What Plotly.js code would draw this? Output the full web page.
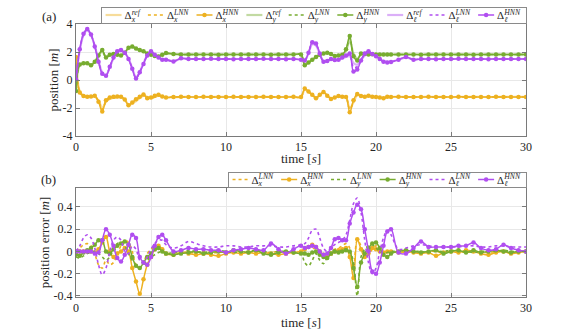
<!DOCTYPE html>
<html>
<head>
<meta charset="utf-8">
<script src="https://cdn.plot.ly/plotly-3.0.1.min.js"></script>
<style>
  html, body { margin: 0; padding: 0; background: #fff; }
  .fig { width: 581px; height: 166px; }
</style>
</head>
<body>
<div id="figA" class="fig"></div>
<div id="figB" class="fig"></div>
<script>
// time samples [s]: fine steps in the two transients, 0.5 s elsewhere
var time = [
  0,0.25,0.5,0.75,1,1.25,1.5,1.75,2,2.25,2.5,2.75,3,3.25,3.5,3.75,4,4.25,4.5,4.75,5,5.25,5.5,5.75,6,
  6.5,7,7.5,8,8.5,9,9.5,10,10.5,11,11.5,12,12.5,13,13.5,14,14.5,
  15,15.25,15.5,15.75,16,16.25,16.5,16.75,17,17.25,17.5,17.75,18,18.25,18.5,18.75,19,19.25,19.5,19.75,20,20.25,20.5,20.75,21,
  21.5,22,22.5,23,23.5,24,24.5,25,25.5,26,26.5,27,27.5,28,28.5,29,29.5,30
];

// (a) positions [m]
var xRef = [
  1.65,-0.8,-1.1,-1.18,-1.18,-1.2,-1.45,-2.0,-1.55,-1.35,-1.28,-1.25,-1.22,-1.4,-1.75,-1.7,-1.5,-1.3,-1.12,-1.2,-1.3,-1.22,-1.12,-1.18,-1.23,
  -1.23,-1.21,-1.21,-1.22,-1.21,-1.21,-1.21,-1.21,-1.22,-1.21,-1.21,-1.21,-1.21,-1.21,-1.22,-1.21,-1.21,
  -1.21,-0.7,-0.85,-1.05,-1.25,-1.1,-0.9,-1.1,-1.3,-1.25,-1.17,-1.2,-1.22,-2.0,-1.6,-1.1,-1.12,-1.2,-1.15,-1.2,-1.23,-1.25,-1.27,-1.22,-1.21,
  -1.21,-1.21,-1.22,-1.21,-1.21,-1.21,-1.21,-1.22,-1.21,-1.21,-1.21,-1.21,-1.22,-1.21,-1.21,-1.21,-1.21,-1.21
];
var xLNN = [
  1.65,-0.85,-1.12,-1.2,-1.19,-1.18,-1.5,-2.1,-1.55,-1.3,-1.27,-1.24,-1.2,-1.38,-1.78,-1.62,-1.42,-1.22,-1.08,-1.22,-1.32,-1.21,-1.1,-1.19,-1.24,
  -1.22,-1.21,-1.21,-1.22,-1.21,-1.21,-1.22,-1.21,-1.21,-1.21,-1.22,-1.21,-1.21,-1.21,-1.22,-1.21,-1.21,
  -1.21,-0.65,-0.85,-1.05,-1.28,-1.08,-0.88,-1.1,-1.32,-1.25,-1.16,-1.2,-1.22,-2.1,-1.55,-1.05,-1.13,-1.2,-1.14,-1.2,-1.23,-1.25,-1.28,-1.21,-1.21,
  -1.21,-1.21,-1.21,-1.22,-1.21,-1.21,-1.22,-1.21,-1.21,-1.21,-1.21,-1.22,-1.21,-1.21,-1.21,-1.22,-1.21,-1.21
];
var xHNN = [
  1.65,-0.9,-1.15,-1.2,-1.18,-1.12,-1.55,-2.25,-1.45,-1.25,-1.2,-1.18,-1.2,-1.4,-1.8,-1.6,-1.38,-1.2,-1.03,-1.3,-1.25,-1.12,-1.05,-1.18,-1.25,
  -1.22,-1.2,-1.21,-1.22,-1.2,-1.21,-1.22,-1.21,-1.2,-1.21,-1.22,-1.21,-1.2,-1.21,-1.22,-1.21,-1.2,
  -1.21,-0.6,-0.82,-1.05,-1.3,-1.05,-0.85,-1.12,-1.35,-1.25,-1.15,-1.2,-1.22,-2.3,-1.45,-1.0,-1.15,-1.2,-1.12,-1.2,-1.22,-1.25,-1.3,-1.2,-1.21,
  -1.2,-1.21,-1.22,-1.21,-1.2,-1.21,-1.22,-1.21,-1.2,-1.21,-1.21,-1.22,-1.21,-1.2,-1.21,-1.22,-1.21,-1.21
];
var yRef = [
  -0.78,1.05,1.18,1.2,1.08,1.3,1.75,2.0,1.65,1.78,1.85,1.8,1.78,1.95,2.25,2.35,2.22,2.12,2.02,1.9,1.82,1.75,1.72,1.8,1.88,
  1.84,1.82,1.82,1.82,1.82,1.82,1.82,1.82,1.82,1.82,1.82,1.82,1.82,1.82,1.82,1.82,1.82,
  1.82,1.15,1.25,1.45,1.62,1.78,1.88,1.92,1.85,1.74,1.76,1.8,2.1,2.8,1.9,1.55,1.8,1.85,1.83,1.82,1.82,1.82,1.82,1.82,1.82,
  1.82,1.82,1.82,1.82,1.82,1.82,1.82,1.82,1.82,1.82,1.82,1.82,1.82,1.82,1.82,1.82,1.82,1.82
];
var yLNN = [
  -0.78,1.08,1.19,1.2,1.06,1.3,1.75,2.1,1.62,1.8,1.85,1.8,1.76,1.95,2.28,2.38,2.24,2.14,2.04,1.9,1.81,1.73,1.7,1.8,1.9,
  1.85,1.82,1.82,1.82,1.82,1.82,1.82,1.82,1.82,1.82,1.82,1.82,1.82,1.82,1.82,1.82,1.82,
  1.82,1.1,1.25,1.45,1.64,1.8,1.89,1.94,1.85,1.73,1.75,1.8,2.15,3.0,1.8,1.45,1.85,1.85,1.82,1.83,1.82,1.82,1.82,1.82,1.82,
  1.82,1.82,1.82,1.82,1.82,1.82,1.82,1.82,1.82,1.82,1.82,1.82,1.82,1.82,1.82,1.82,1.82,1.82
];
var yHNN = [
  -0.78,1.1,1.2,1.2,1.05,1.3,1.75,2.15,1.6,1.8,1.85,1.8,1.75,1.95,2.3,2.4,2.25,2.15,2.05,1.9,1.8,1.72,1.68,1.8,1.92,
  1.85,1.82,1.82,1.83,1.82,1.82,1.81,1.82,1.82,1.83,1.82,1.82,1.82,1.81,1.82,1.82,1.82,
  1.82,1.05,1.25,1.45,1.65,1.8,1.9,1.95,1.85,1.72,1.75,1.8,2.2,3.15,1.7,1.4,1.9,1.85,1.82,1.84,1.82,1.83,1.82,1.82,1.82,
  1.83,1.82,1.82,1.81,1.82,1.82,1.83,1.82,1.82,1.82,1.81,1.82,1.82,1.83,1.82,1.82,1.82,1.82
];
var lRef = [
  0.05,2.1,3.2,3.55,3.2,2.45,1.4,0.55,0.35,0.9,1.55,2.0,2.1,1.95,1.55,0.85,0.2,0.6,1.2,1.75,2.0,1.8,1.6,1.48,1.45,
  1.35,1.52,1.5,1.5,1.5,1.5,1.5,1.5,1.5,1.5,1.5,1.5,1.5,1.5,1.5,1.5,1.5,
  1.45,1.4,1.9,2.55,2.45,1.85,1.35,1.35,1.47,1.4,1.43,1.55,1.65,1.7,1.2,1.1,1.4,1.75,1.95,1.85,1.72,1.52,1.35,1.3,1.3,
  1.45,1.6,1.47,1.5,1.5,1.5,1.5,1.5,1.5,1.5,1.5,1.5,1.5,1.5,1.5,1.5,1.5,1.5
];
var lLNN = [
  0.05,2.15,3.25,3.6,3.22,2.42,1.35,0.5,0.32,0.92,1.58,2.02,2.12,1.95,1.52,0.82,0.15,0.57,1.18,1.75,2.02,1.8,1.6,1.46,1.45,
  1.34,1.53,1.5,1.5,1.5,1.5,1.5,1.5,1.5,1.5,1.5,1.5,1.5,1.5,1.5,1.5,1.5,
  1.45,1.4,1.92,2.62,2.52,1.88,1.32,1.35,1.48,1.41,1.44,1.57,1.7,1.8,0.9,0.95,1.4,1.82,2.0,1.85,1.71,1.51,1.32,1.28,1.29,
  1.45,1.62,1.46,1.5,1.5,1.5,1.5,1.5,1.5,1.5,1.5,1.5,1.5,1.5,1.5,1.5,1.5,1.5
];
var lHNN = [
  0.05,2.2,3.3,3.64,3.25,2.4,1.3,0.45,0.3,0.95,1.6,2.05,2.15,1.95,1.5,0.8,0.1,0.55,1.15,1.75,2.05,1.8,1.6,1.45,1.45,
  1.33,1.55,1.5,1.5,1.5,1.51,1.5,1.5,1.49,1.5,1.5,1.5,1.51,1.5,1.5,1.49,1.5,
  1.45,1.4,1.95,2.7,2.6,1.9,1.3,1.35,1.5,1.42,1.45,1.6,1.75,1.9,0.6,0.75,1.4,1.9,2.05,1.85,1.7,1.5,1.3,1.25,1.28,
  1.45,1.65,1.45,1.5,1.5,1.49,1.5,1.5,1.51,1.5,1.5,1.5,1.49,1.5,1.5,1.5,1.5,1.5
];

// (b) position errors [m]
var exLNN = [
  0,0.03,0.06,0.07,0.05,-0.02,-0.12,-0.15,-0.08,-0.12,-0.1,-0.02,0.05,0.1,0.08,0.0,-0.12,-0.15,-0.1,-0.02,0.02,0.04,0.03,0.0,-0.02,
  -0.01,0.0,-0.01,-0.01,0.0,-0.01,-0.01,0.0,-0.01,0.0,-0.01,0.0,-0.01,-0.01,0.0,-0.01,0.0,
  0.0,0.03,0.05,0.03,0.02,-0.02,-0.03,-0.02,0.0,0.02,0.03,0.05,0.07,0.03,-0.15,0.1,0.05,-0.05,-0.03,0.02,0.05,0.02,0.0,-0.01,0.0,
  0.0,-0.01,0.0,-0.01,0.0,0.0,-0.01,0.0,0.0,-0.01,0.0,0.0,-0.01,0.0,0.0,-0.01,0.0,0.0
];
var exHNN = [
  0,0,0,0,0,-0.01,0.02,0.08,0.13,0.0,-0.05,-0.02,0.0,0.03,0.0,-0.15,-0.27,-0.38,-0.25,-0.12,-0.05,0.02,0.05,0.02,-0.02,
  -0.03,-0.01,-0.02,-0.03,-0.02,-0.03,-0.04,-0.02,-0.01,-0.02,-0.01,-0.02,-0.01,-0.02,-0.03,-0.02,-0.01,
  0.0,0.02,0.04,0.06,0.04,0.0,-0.03,-0.04,-0.02,0.0,0.01,0.02,0.03,-0.05,-0.24,0.11,0.02,-0.05,-0.02,0.03,0.02,0.0,-0.01,0.0,0.0,
  -0.01,0.0,-0.01,-0.02,-0.01,-0.04,-0.01,0.0,-0.01,0.01,0.0,-0.02,-0.03,-0.01,0.0,-0.02,-0.01,0.0
];
var eyLNN = [
  -0.05,-0.06,-0.04,-0.02,-0.01,0.0,-0.02,-0.05,-0.08,-0.05,0.02,0.07,0.08,0.05,-0.02,-0.08,-0.12,-0.14,-0.12,-0.08,-0.05,-0.03,-0.01,0.0,-0.02,
  -0.01,0.0,0.01,0.0,-0.01,0.0,0.01,0.0,-0.01,0.0,0.0,0.01,0.0,-0.01,0.0,0.0,-0.01,
  -0.02,-0.1,-0.13,-0.08,-0.02,-0.08,-0.11,-0.05,0.0,0.01,0.0,0.01,0.02,0.0,-0.1,-0.4,-0.05,0.02,0.05,0.06,0.03,0.0,-0.02,-0.01,0.0,
  0.0,0.01,0.0,0.0,-0.01,0.0,0.0,0.01,0.0,0.0,-0.01,0.0,0.0,0.0,0.01,0.0,0.0,0.0
];
var eyHNN = [
  -0.03,-0.04,-0.01,0.01,0.03,0.06,0.1,0.1,0.0,-0.02,0.02,0.05,0.07,0.09,0.06,-0.05,-0.13,-0.15,-0.1,-0.05,-0.02,0.02,0.03,0.0,-0.02,
  -0.03,-0.02,-0.01,0.0,-0.02,-0.01,0.0,-0.01,0.01,0.0,-0.01,0.01,-0.02,-0.03,-0.01,0.0,-0.01,
  -0.02,-0.02,-0.03,-0.01,0.0,-0.03,-0.05,-0.06,-0.02,0.0,-0.01,0.0,0.01,0.0,-0.15,-0.32,-0.1,-0.02,0.03,0.07,0.08,0.03,-0.03,-0.05,-0.02,
  0.0,0.01,0.0,-0.01,0.0,0.01,-0.02,0.0,0.01,-0.01,0.01,-0.01,0.0,0.01,0.0,-0.01,0.0,0.0
];
var elLNN = [
  0,0.05,0.12,0.15,0.12,0.03,-0.12,-0.21,-0.15,0.0,0.1,0.13,0.1,0.0,-0.02,0.05,0.02,-0.08,-0.1,-0.05,0.02,0.07,0.1,0.1,0.06,
  0.03,0.05,0.09,0.07,0.05,0.04,0.04,0.05,0.05,0.04,0.04,0.05,0.05,0.05,0.04,0.04,0.05,
  0.06,0.07,0.12,0.19,0.2,0.12,0.03,0.0,0.03,0.06,0.08,0.1,0.15,0.28,0.43,0.48,0.35,0.1,-0.1,-0.2,-0.15,0.0,0.12,0.19,0.15,
  0.02,0.03,0.05,0.06,0.05,0.04,0.04,0.04,0.04,0.05,0.05,0.04,0.04,0.05,0.05,0.04,0.04,0.04
];
var elHNN = [
  0,0,0,0,0,-0.02,-0.01,0.1,0.2,0.15,0.05,-0.06,-0.09,-0.03,0.06,0.15,0.12,-0.05,-0.1,-0.12,-0.05,0.05,0.13,0.15,0.1,
  0.0,0.01,0.03,0.02,0.02,0.01,0.01,-0.01,0.01,0.02,0.03,0.02,0.01,0.07,0.02,-0.02,0.02,
  0.05,0.03,0.04,0.05,0.04,0.0,-0.03,-0.02,0.03,0.11,0.12,0.1,0.1,0.25,0.35,0.42,0.38,0.2,0.0,-0.18,-0.2,-0.1,0.05,0.18,0.2,
  -0.01,-0.02,0.03,0.09,0.04,0.04,0.04,0.04,0.05,0.05,0.08,0.03,0.01,0.02,0.06,0.03,0.01,0.0
];

var orange = '#EDB120', green = '#77AC30', purple = '#B04EF0';
var serifName = 'Liberation Serif';
var serif = serifName + ', Times New Roman, serif';
var txt = '#262626';
var legSize = 11;

function refTrace(y, color, name) {
  return {x: time, y: y, name: name, mode: 'lines',
    line: {color: color, width: 2.2, shape: 'spline'}, opacity: 0.45};
}
function lnnTrace(y, color, name) {
  return {x: time, y: y, name: name, mode: 'lines',
    line: {color: color, width: 1.6, dash: 'dot', shape: 'spline'}};
}
function hnnTrace(y, color, name) {
  return {x: time, y: y, name: name, mode: 'lines+markers',
    line: {color: color, width: 1.5, shape: 'spline'}, marker: {color: color, size: 4.5}};
}
function lab(c, s) { return 'Δ<sub><i>' + c + '</i></sub><sup><i>' + s + '</i></sup>'; }

var tracesA = [
  refTrace(xRef, orange, lab('x', 'ref')),
  lnnTrace(xLNN, orange, lab('x', 'LNN')),
  hnnTrace(xHNN, orange, lab('x', 'HNN')),
  refTrace(yRef, green, lab('y', 'ref')),
  lnnTrace(yLNN, green, lab('y', 'LNN')),
  hnnTrace(yHNN, green, lab('y', 'HNN')),
  refTrace(lRef, purple, lab('ℓ', 'ref')),
  lnnTrace(lLNN, purple, lab('ℓ', 'LNN')),
  hnnTrace(lHNN, purple, lab('ℓ', 'HNN'))
];
var tracesB = [
  lnnTrace(exLNN, orange, lab('x', 'LNN')),
  hnnTrace(exHNN, orange, lab('x', 'HNN')),
  lnnTrace(eyLNN, green, lab('y', 'LNN')),
  hnnTrace(eyHNN, green, lab('y', 'HNN')),
  lnnTrace(elLNN, purple, lab('ℓ', 'LNN')),
  hnnTrace(elHNN, purple, lab('ℓ', 'HNN'))
];

var axBase = {
  showline: true, linecolor: '#7a7a7a', linewidth: 1, mirror: 'ticks',
  ticks: 'inside', ticklen: 4, tickcolor: '#7a7a7a',
  showgrid: true, gridcolor: '#e8e8e8', zeroline: false,
  tickfont: {family: serif, size: 12, color: txt}
};
function ax(extra) { return Object.assign({}, axBase, extra); }
function ttl(s) { return {text: s, font: {family: serif, size: 13, color: txt}, standoff: 1}; }

function makeLayout(marginT, marginB, yaxis, label, labelY) {
  return {
    width: 581, height: 166,
    margin: {l: 76, r: 55, t: marginT, b: marginB, autoexpand: false},
    paper_bgcolor: '#fff', plot_bgcolor: '#fff',
    showlegend: true,
    xaxis: ax({range: [0, 30], tickvals: [0, 5, 10, 15, 20, 25, 30], title: ttl('time [<i>s</i>]')}),
    yaxis: ax(yaxis),
    legend: {
      orientation: 'h', xanchor: 'right', yanchor: 'bottom', x: 1, y: 1.01,
      bgcolor: '#fff', bordercolor: '#8a8a8a', borderwidth: 1,
      font: {family: serif, size: legSize, color: txt}, itemwidth: 30
    },
    annotations: [{text: label, xref: 'paper', yref: 'paper', x: -0.04, y: labelY, xanchor: 'right', yanchor: 'middle',
      showarrow: false, font: {family: serif, size: 13, color: txt}}]
  };
}

var layoutA = makeLayout(24, 30, {range: [-4, 4], tickvals: [-4, -2, 0, 2, 4], ticktext: ['-4', '-2', '0', '2', '4'],
  title: ttl('position [<i>m</i>]')}, '(a)', 1.071);
var layoutB = makeLayout(22, 35, {range: [-0.41, 0.57], tickvals: [-0.4, -0.2, 0, 0.2, 0.4],
  ticktext: ['-0.4', '-0.2', '0', '0.2', '0.4'], title: ttl('position error [<i>m</i>]')}, '(b)', 1.08);

// text widths from a canvas
var ctx = document.createElement('canvas').getContext('2d');
function textW(s, size, italic) {
  ctx.font = (italic ? 'italic ' : '') + size + 'px "' + serifName + '"';
  return ctx.measureText(s).width;
}

// stack the superscript over the subscript, LaTeX style; returns the label width
function stackScripts(t) {
  var kids = Array.prototype.filter.call(t.childNodes, function(n) { return n.nodeType === 1; });
  var sub = null, sup = null;
  kids.forEach(function(k) {
    var s = k.textContent;
    if (!sub && (s === 'x' || s === 'y' || s === 'ℓ')) sub = k;
    else if (sub && !sup && s.length > 1) sup = k;
  });
  var small = legSize * 0.7;
  var base = textW('Δ', legSize, false);
  if (!sub || !sup) return base + textW(t.textContent.slice(1), small, true);
  var subW = textW(sub.textContent, small, true);
  var supW = textW(sup.textContent, small, true);
  sup.setAttribute('dx', -subW);
  return base + Math.max(subW, supW);
}

// MATLAB-style compact legend: short sample lines, one row, right-aligned to the axes box
function packLegend(gd, top, h) {
  var right = gd._fullLayout._size.l + gd._fullLayout._size.w;
  gd.querySelectorAll('g.legend').forEach(function(lg) {
    var sb = lg.querySelector('g.scrollbox');
    if (sb) { sb.removeAttribute('clip-path'); sb.setAttribute('transform', 'translate(0,0)'); }
    var pos = 3;
    lg.querySelectorAll('g.traces').forEach(function(it) {
      it.querySelectorAll('.legendlines path').forEach(function(p) { p.setAttribute('d', 'M2,0h16'); });
      it.querySelectorAll('path.scatterpts').forEach(function(p) { p.setAttribute('transform', 'translate(10,0)'); });
      var w = 0;
      it.querySelectorAll('text.legendtext').forEach(function(t) {
        w = stackScripts(t);
        t.setAttribute('x', 21);
      });
      it.setAttribute('transform', 'translate(' + pos + ',' + (h / 2) + ')');
      pos += 21 + w + 6;
    });
    var bg = lg.querySelector('rect.bg');
    if (bg) {
      bg.setAttribute('width', pos);
      bg.setAttribute('height', h);
      bg.setAttribute('x', 0.5);
      bg.setAttribute('y', 0.5);
    }
    lg.setAttribute('transform', 'translate(' + (right - pos) + ',' + top + ')');
  });
}

var cfg = {displayModeBar: false, staticPlot: true};
var gdA = document.getElementById('figA'), gdB = document.getElementById('figB');
Plotly.newPlot(gdA, tracesA, layoutA, cfg).then(function() { packLegend(gdA, 7, 16); });
Plotly.newPlot(gdB, tracesB, layoutB, cfg).then(function() { packLegend(gdB, 6, 15); });
</script>
</body>
</html>
